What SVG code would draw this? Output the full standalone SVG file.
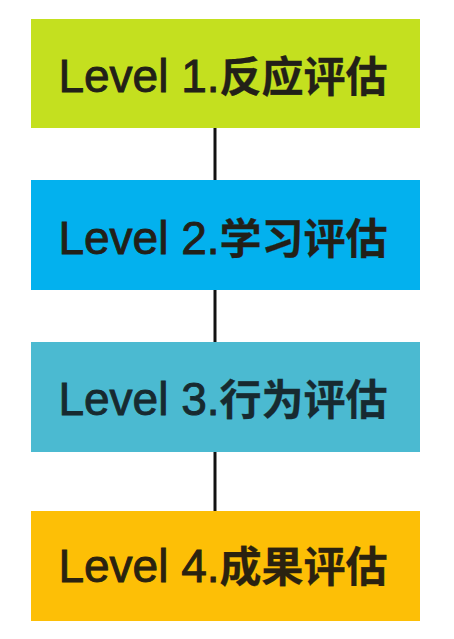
<svg xmlns="http://www.w3.org/2000/svg" width="454" height="639" viewBox="0 0 454 639">
<style>
.lbl{font-family:"Liberation Sans","Noto Sans CJK SC",sans-serif;font-size:46px;text-anchor:middle;fill:#222018;stroke:#222018;stroke-width:0.9}
.cjk{font-family:"Noto Sans CJK SC",sans-serif;font-size:42px;font-weight:bold;stroke-width:0.3}
.conn{stroke:#111;stroke-width:3;fill:none}
</style>
<rect width="454" height="639" fill="#ffffff"/>
<g id="connectors">
<line class="conn" x1="215" y1="128" x2="215" y2="180"/>
<line class="conn" x1="215" y1="290" x2="215" y2="342"/>
<line class="conn" x1="215" y1="452" x2="215" y2="511"/>
</g>
<g id="level1">
<rect x="31" y="19" width="389" height="109" fill="#c4e01f"/>
<text class="lbl" x="223" y="92">Level 1.<tspan class="cjk">反应评估</tspan></text>
</g>
<g id="level2">
<rect x="31" y="180" width="389" height="110" fill="#03b1ee"/>
<text class="lbl" x="223" y="254">Level 2.<tspan class="cjk">学习评估</tspan></text>
</g>
<g id="level3">
<rect x="31" y="342" width="389" height="110" fill="#4bbad1"/>
<text class="lbl" x="223" y="415" style="fill:#172a30;stroke:#172a30">Level 3.<tspan class="cjk">行为评估</tspan></text>
</g>
<g id="level4">
<rect x="31" y="511" width="389" height="110" fill="#fdbf06"/>
<text class="lbl" x="223" y="582" style="fill:#2a2210;stroke:#2a2210">Level 4.<tspan class="cjk">成果评估</tspan></text>
</g>
</svg>
